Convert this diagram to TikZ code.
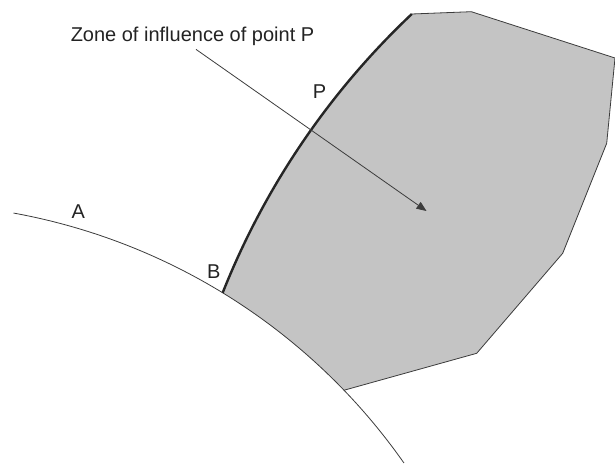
\documentclass[tikz,border=0pt]{standalone}
\usepackage{fontspec}
\setmainfont{Liberation Sans}
\usepackage{tikz}
\usetikzlibrary{arrows.meta, calc}
\definecolor{zonegray}{RGB}{196, 196, 196}
\definecolor{edgegray}{RGB}{60, 60, 60}
\definecolor{labelblack}{RGB}{35, 35, 35}

\begin{document}
\begin{tikzpicture}[x=1pt, y=1pt,
    thinline/.style={draw=edgegray, line width=0.8pt},
    boundary/.style={draw=black!85, line width=2.4pt},
    lbl/.style={text=labelblack, font=\fontsize{20}{24}\selectfont}]
    \useasboundingbox (0,0) rectangle (615,464);

    % Centres of the two arcs
    \coordinate (O) at (-95.5,-349.2);
    \coordinate (Q) at (945.8,-115.8);

    % Points on the curves
    \coordinate (B) at ($(O)+(58.56:610)$);
    \coordinate (C) at ($(O)+(43.9:610)$);
    \coordinate (T) at ($(Q)+(133.34:778)$);

    % Zone of influence
    \fill[zonegray] (B) arc[start angle=158.35, end angle=133.34, radius=778]
        -- (471.3,452.3) -- (615,406) -- (606.7,320.7) -- (562.7,210.7)
        -- (476.7,110.7) -- (C) arc[start angle=43.9, end angle=58.56, radius=610] -- cycle;
    \draw[thinline] (T) -- (471.3,452.3) -- (615,406) -- (606.7,320.7)
        -- (562.7,210.7) -- (476.7,110.7) -- (C);

    % Surface curve
    \draw[thinline] ($(O)+(79.7:610)$) arc[start angle=79.7, end angle=35.04, radius=610];
    \draw[boundary] (B) arc[start angle=158.35, end angle=133.34, radius=778];

    % Labels
    \node[lbl] (lblA) at (78.4,252.3) {A};
    \node[lbl] (lblB) at (213.7,192.3) {B};
    \node[lbl] (lblP) at (319.6,372.3) {P};
    \node[lbl, anchor=base] (zone) at (192.5,422.3) {Zone of influence of point P};

    % Pointer
    \coordinate (head) at (426.5,253);
    \draw[thinline, -{Triangle[length=10pt, width=8pt]}] ([xshift=3.5pt]zone.south) -- (head);
\end{tikzpicture}
\end{document}
